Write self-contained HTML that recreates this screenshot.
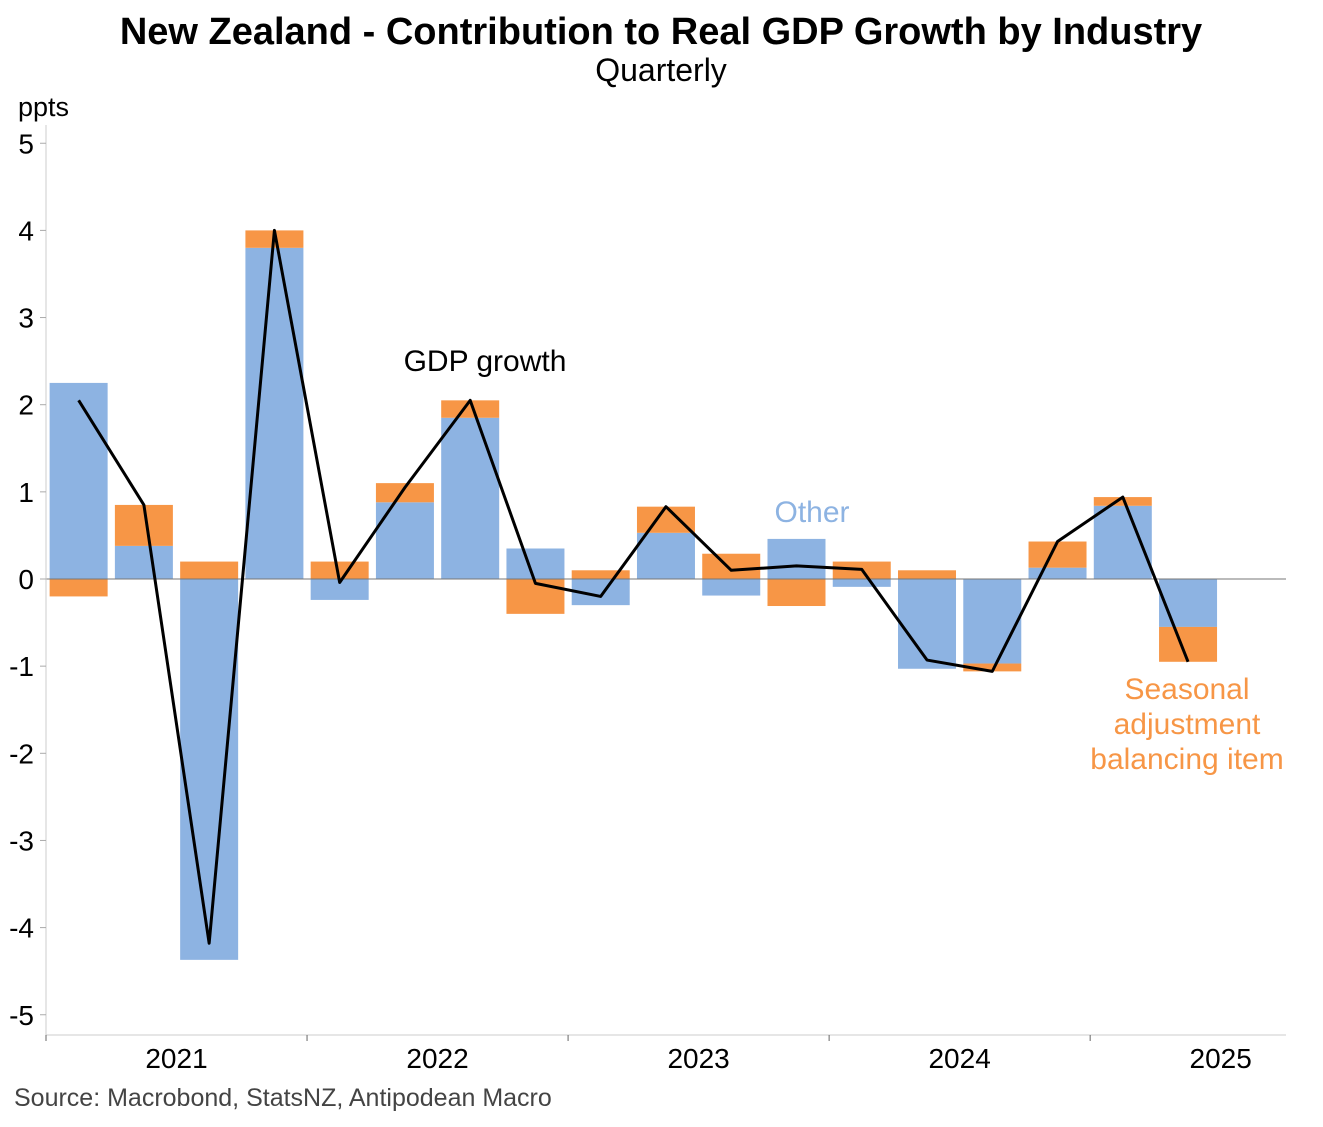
<!DOCTYPE html>
<html><head><meta charset="utf-8"><style>
body{margin:0;background:#fff;font-family:"Liberation Sans",Arial,sans-serif}
svg text{font-family:"Liberation Sans",Arial,sans-serif}
</style></head><body>
<svg id="c" width="1323" height="1122" xmlns="http://www.w3.org/2000/svg">
<text x="661" y="44" text-anchor="middle" font-size="38" font-weight="bold">New Zealand - Contribution to Real GDP Growth by Industry</text>
<text x="661" y="81" text-anchor="middle" font-size="32">Quarterly</text>
<text x="18" y="116" font-size="27">ppts</text>
<text x="14" y="1106" font-size="25" fill="#444">Source: Macrobond, StatsNZ, Antipodean Macro</text>
<g id="bars"></g><g id="axes"></g><g id="line"></g>
<text x="485" y="371" text-anchor="middle" font-size="30">GDP growth</text>
<text x="812" y="522" text-anchor="middle" font-size="30" fill="#8db3e2">Other</text>
<text text-anchor="middle" font-size="30" fill="#f79646"><tspan x="1187" y="699">Seasonal</tspan><tspan x="1187" y="734">adjustment</tspan><tspan x="1187" y="769">balancing item</tspan></text>
</svg>
<script>
const other=[2.25,0.38,-4.37,3.8,-0.24,0.88,1.85,0.35,-0.3,0.53,-0.19,0.46,-0.09,-1.03,-0.97,0.13,0.84,-0.55];
const seasonal=[-0.2,0.47,0.2,0.2,0.2,0.22,0.2,-0.4,0.1,0.3,0.29,-0.31,0.2,0.1,-0.09,0.3,0.1,-0.4];
const gdp=[2.05,0.85,-4.18,4.0,-0.04,1.05,2.05,-0.05,-0.2,0.83,0.1,0.15,0.11,-0.93,-1.06,0.43,0.94,-0.95];
const yTicks=[5,4,3,2,1,0,-1,-2,-3,-4,-5];
const years=["2021","2022","2023","2024","2025"];
const NS="http://www.w3.org/2000/svg";
const x0=46,step=65.26,bw=58;
const X=i=>x0+step*(i+0.5);
const Y=v=>579-v*87.15;
function el(t,a,p){const e=document.createElementNS(NS,t);for(const k in a)e.setAttribute(k,a[k]);document.getElementById(p).appendChild(e);return e;}
other.forEach((o,i)=>{
 const s=seasonal[i];
 let pos=0,neg=0;
 [[o,'#8db3e2','other'],[s,'#f79646','seasonal']].forEach(([v,c,n])=>{
  let a,b;
  if(v>=0){a=pos;b=pos+v;pos=b;}else{a=neg;b=neg+v;neg=b;}
  const r=el('rect',{x:X(i)-bw/2,y:Math.min(Y(a),Y(b)),width:bw,height:Math.abs(Y(a)-Y(b)),fill:c},'bars');
  
  
 });
});
let ax=el('line',{x1:46,x2:1286,y1:Y(0),y2:Y(0),stroke:'#777','stroke-width':1},'axes');

ax=el('line',{x1:46,x2:46,y1:125,y2:1035,stroke:'#ccc','stroke-width':1},'axes');

ax=el('line',{x1:46,x2:1286,y1:1035,y2:1035,stroke:'#ccc','stroke-width':1},'axes');

yTicks.forEach(v=>{
 const t=el('text',{x:34,y:Y(v)+10,'text-anchor':'end','font-size':28},'axes');t.textContent=v;
 
 const l=el('line',{x1:40,x2:46,y1:Y(v),y2:Y(v),stroke:'#aaa'},'axes');
 
});
years.forEach((y,k)=>{
 const xs=x0+step*4*k;
 const l=el('line',{x1:xs,x2:xs,y1:1035,y2:1041,stroke:'#666'},'axes');
 
 const t=el('text',{x:xs+step*2,y:1068,'text-anchor':'middle','font-size':28},'axes');t.textContent=y;
 
});
const p=el('polyline',{points:gdp.map((v,i)=>X(i)+','+Y(v)).join(' '),fill:'none',stroke:'#000','stroke-width':3,'stroke-linejoin':'round'},'line');

</script>
</body></html>
